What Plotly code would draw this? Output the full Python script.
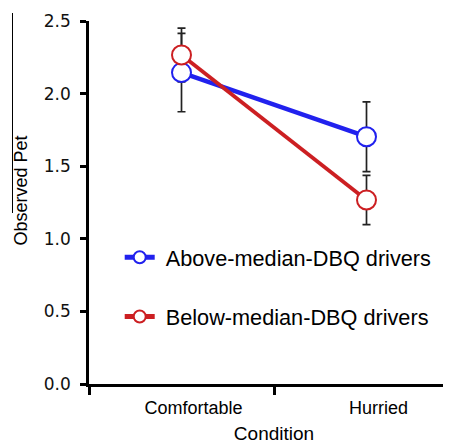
import plotly.graph_objects as go

categories = ["Comfortable", "Hurried"]
series_names = ["Above-median-DBQ drivers", "Below-median-DBQ drivers"]
above_vals = [2.145, 1.703]
above_err = [0.27, 0.24]
below_vals = [2.266, 1.267]
below_err = [0.185, 0.17]
y_ticks = [0.0, 0.5, 1.0, 1.5, 2.0, 2.5]
y_tick_text = ["0.0", "0.5", "1.0", "1.5", "2.0", "2.5"]

BLUE = "#2121ee"
RED = "#cc1f22"
ERR = "#222222"

fig = go.Figure()

# error bars first (drawn beneath all markers)
for vals, errs, grp in [(above_vals, above_err, "a"), (below_vals, below_err, "b")]:
    fig.add_trace(go.Scatter(
        x=categories, y=vals, mode="markers",
        marker=dict(color="rgba(0,0,0,0)", size=1),
        error_y=dict(type="data", array=errs, visible=True, color=ERR, thickness=1.7, width=4),
        showlegend=False, hoverinfo="skip", legendgroup=grp,
    ))

fig.add_trace(go.Scatter(
    x=categories, y=above_vals, mode="lines+markers",
    name="\u00a0" + series_names[0], legendgroup="a",
    line=dict(color=BLUE, width=4.5),
    marker=dict(symbol="circle", size=19, color="white", line=dict(color=BLUE, width=2)),
))
fig.add_trace(go.Scatter(
    x=categories, y=below_vals, mode="lines+markers",
    name="\u00a0" + series_names[1], legendgroup="b",
    line=dict(color=RED, width=3.8),
    marker=dict(symbol="circle", size=19, color="white", line=dict(color=RED, width=2)),
))

PW = 370.0  # plot width in px
PH = 363.0  # plot height in px

fig.update_layout(
    template="none",
    width=451, height=445,
    margin=dict(l=81, r=0, t=13, b=69, autoexpand=False),
    paper_bgcolor="white", plot_bgcolor="white",
    font=dict(family="Liberation Sans, Arial, sans-serif", color="black"),
    showlegend=True,
    legend=dict(
        x=0.083, y=0.406, xanchor="left", yanchor="top",
        font=dict(size=21.7, family="Liberation Sans, Arial, sans-serif", color="black"),
        itemsizing="constant", traceorder="grouped", tracegroupgap=28,
        bgcolor="rgba(0,0,0,0)",
    ),
    xaxis=dict(
        type="category", range=[-0.5, 1.5], automargin=False,
        showline=True, linecolor="black", linewidth=2.5,
        ticks="outside", tickson="boundaries", ticklen=8, tickwidth=2.5, tickcolor="black",
        tickfont=dict(size=18, family="Liberation Sans, Arial, sans-serif", color="black"),
        ticklabelshift=12, ticklabelstandoff=6,
        showgrid=False, zeroline=False,
        title=dict(text="Condition", font=dict(size=19, family="Liberation Sans, Arial, sans-serif"), standoff=10),
    ),
    yaxis=dict(
        range=[0, 2.5], tickvals=y_ticks, ticktext=y_tick_text, automargin=False,
        showline=True, linecolor="black", linewidth=2.5,
        ticks="outside", ticklen=6, tickwidth=2.5, tickcolor="black",
        tickfont=dict(size=17, family="DejaVu Sans, Verdana, sans-serif", color="#111"),
        ticklabelstandoff=6,
        showgrid=False, zeroline=False,
    ),
    annotations=[dict(
        text="Observed Pet", textangle=-90, xref="paper", yref="paper",
        x=(20 - 89) / PW, y=(384 - 190.5) / PH, xanchor="center", yanchor="middle",
        showarrow=False, font=dict(size=18, family="Liberation Sans, Arial, sans-serif", color="black"),
    )],
    shapes=[dict(
        type="line", xref="paper", yref="paper",
        x0=(12.5 - 89) / PW, x1=(12.5 - 89) / PW, y0=(384 - 13) / PH, y1=(384 - 213) / PH,
        line=dict(color="black", width=1),
    )],
)

fig.write_html("out.html")
